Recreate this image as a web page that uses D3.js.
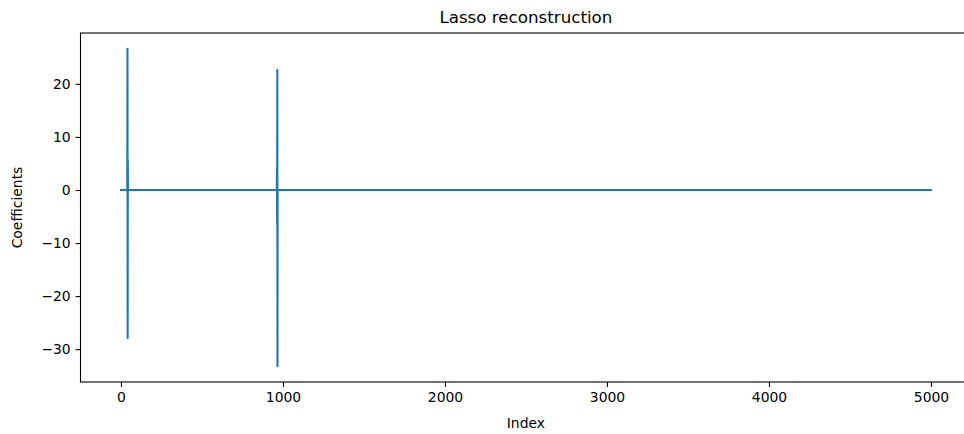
<!DOCTYPE html>
<html>
<head>
<meta charset="utf-8">
<script src="https://cdn.jsdelivr.net/npm/d3@7"></script>
<style>
  html, body { margin: 0; padding: 0; background: #fff; overflow: hidden; }
  text { font-family: "DejaVu Sans", sans-serif; fill: #000; }
</style>
</head>
<body>
<svg id="chart" width="964" height="434"></svg>
<script>
// ---- data ----
const nCoef = 5000;                       // coefficient count (indices 0..4999)
const nonzeroIdx = [40, 41, 42, 963, 964, 965, 966];
const nonzeroVal = [26.6, -27.9, 5.7, 4.2, -6.2, 22.6, -33.2];
const xTicks = [0, 1000, 2000, 3000, 4000, 5000];
const yTicks = [-30, -20, -10, 0, 10, 20];
const titleText = "Lasso reconstruction";
const xLabel = "Index";
const yLabel = "Coefficients";

// build full coefficient series (all other coefficients are exactly zero)
const coef = new Array(nCoef).fill(0);
nonzeroIdx.forEach((i, k) => { coef[i] = nonzeroVal[k]; });
const series = coef.map((v, i) => ({ i, v }));

// ---- layout ----
const L = 80.5, R = 971.3, T = 33, B = 382;
const svg = d3.select("#chart");

const xMin = 0, xMax = nCoef - 1;
const xPad = (xMax - xMin) * 0.05;
const x = d3.scaleLinear().domain([xMin - xPad, xMax + xPad]).range([L, R]);

const yMin = d3.min(coef), yMax = d3.max(coef);
const yPad = (yMax - yMin) * 0.05;
const y = d3.scaleLinear().domain([yMin - yPad, yMax + yPad]).range([B, T]);

const fontTick = 13.9;

// line
const line = d3.line().x(d => x(d.i)).y(d => y(d.v));
svg.append("path")
  .datum(series)
  .attr("d", line)
  .attr("fill", "none")
  .attr("stroke", "#1f77b4")
  .attr("stroke-width", 2.1)
  .attr("stroke-linejoin", "round")
  .attr("stroke-linecap", "square");

// axes
const xAxis = d3.axisBottom(x).tickValues(xTicks).tickSize(4.9).tickPadding(4.9)
  .tickFormat(d3.format("d"));
const gx = svg.append("g").attr("transform", `translate(0,${B})`).call(xAxis);
gx.select(".domain").remove();
gx.selectAll(".tick line").attr("stroke", "#000").attr("stroke-width", 1.1);
gx.selectAll(".tick text").style("font-size", fontTick + "px").style("font-family", "DejaVu Sans");

const yAxis = d3.axisLeft(y).tickValues(yTicks).tickSize(4.9).tickPadding(4.9)
  .tickFormat(d => d < 0 ? "\u2212" + Math.abs(d) : String(d));
const gy = svg.append("g").attr("transform", `translate(${L},0)`).call(yAxis);
gy.select(".domain").remove();
gy.selectAll(".tick line").attr("stroke", "#000").attr("stroke-width", 1.1);
gy.selectAll(".tick text").style("font-size", fontTick + "px").style("font-family", "DejaVu Sans");

// frame
svg.append("rect")
  .attr("x", L).attr("y", T).attr("width", R - L).attr("height", B - T)
  .attr("fill", "none").attr("stroke", "#000").attr("stroke-width", 1.1);

// title
svg.append("text")
  .attr("x", (L + R) / 2).attr("y", T - 10)
  .attr("text-anchor", "middle")
  .style("font-size", "16.7px")
  .text(titleText);

// axis labels
svg.append("text")
  .attr("x", (L + R) / 2).attr("y", 428)
  .attr("text-anchor", "middle")
  .style("font-size", fontTick + "px")
  .text(xLabel);

svg.append("text")
  .attr("transform", `translate(22,${(T + B) / 2}) rotate(-90)`)
  .attr("text-anchor", "middle")
  .style("font-size", fontTick + "px")
  .text(yLabel);
</script>
</body>
</html>
